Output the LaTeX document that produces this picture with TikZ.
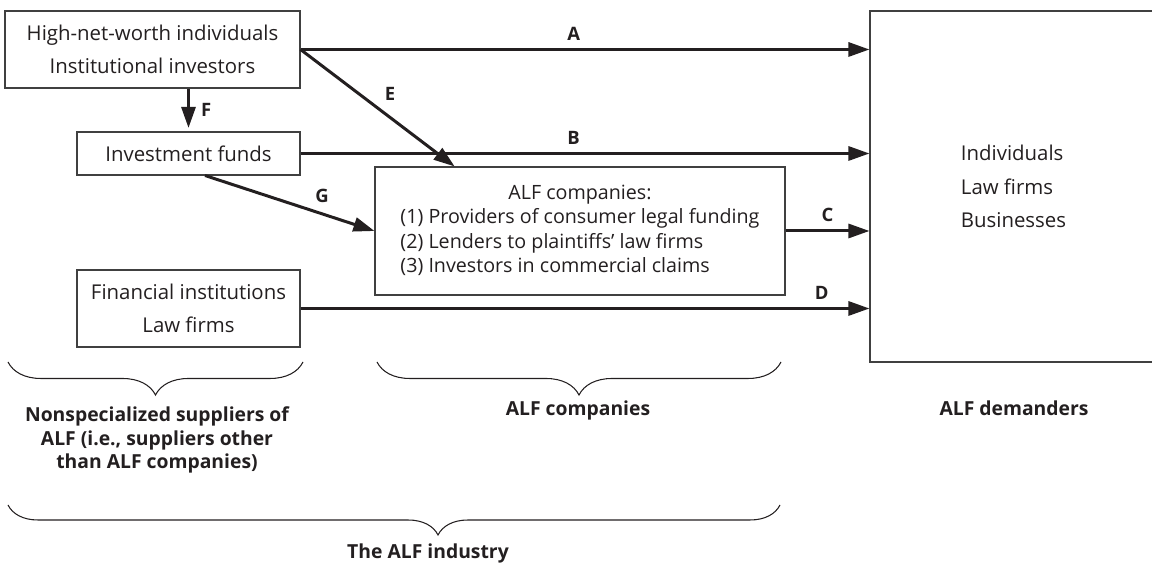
\documentclass[tikz,border=0pt]{standalone}
\usepackage{fontspec}
\setmainfont{Open Sans}
\usepackage{tikz}
\usetikzlibrary{arrows.meta,calc,decorations.pathreplacing}
\definecolor{alfink}{HTML}{231F20}
\tikzset{
  alfbox/.style={draw=black!75, line width=0.6pt, text=alfink, inner sep=0pt, align=center, font=\fontsize{11.6}{19}\selectfont},
  alfflow/.style={line width=1.7pt, draw=alfink, -{Triangle[length=12pt,width=8pt]}},
  alftag/.style={text=alfink, font=\fontsize{10.5}{12}\selectfont\bfseries},
  alfbrace/.style={line width=0.6pt, draw=alfink, decorate},
  alflbl/.style={text=alfink, align=center, font=\fontsize{11}{13.6}\selectfont\bfseries},
}

\begin{document}
\begin{tikzpicture}
\useasboundingbox (0,0) rectangle (23.04,11.3);
\node[alfbox, minimum width=5.900cm, minimum height=1.540cm] (hnw) at (3.050,10.310) {High-net-worth individuals\\Institutional investors};
\node[alfbox, minimum width=4.460cm, minimum height=0.860cm] (fund) at (3.770,8.230) {Investment funds};
\node[alfbox, minimum width=4.460cm, minimum height=1.540cm] (fin) at (3.770,5.130) {Financial institutions\\Law firms};
\node[alfbox, minimum width=8.200cm, minimum height=2.560cm, font=\fontsize{11.2}{14}\selectfont] (alf) at (11.600,6.680) {\begin{tabular}{@{}l@{}}\multicolumn{1}{@{}c@{}}{ALF companies:}\\(1) Providers of consumer legal funding\\(2) Lenders to plaintiffs’ law firms\\(3) Investors in commercial claims\end{tabular}};
\node[alfbox, minimum width=5.740cm, minimum height=7.020cm, align=left] (dem) at (20.270,7.570) {Individuals\\Law firms\\Businesses};
\draw[alfflow] (hnw.east) -- node[alftag, pos=0.48, above=1pt] {A} (hnw.east -| dem.west);
\draw[alfflow] (fund.east) -- node[alftag, pos=0.48, above=1pt] {B} (fund.east -| dem.west);
\draw[alfflow] (alf.east) -- node[alftag, midway, above=1pt] {C} (alf.east -| dem.west);
\draw[alfflow] (fin.east) -- node[alftag, pos=0.916, above=1pt] {D} (fin.east -| dem.west);
\draw[alfflow] (hnw.east) -- node[alftag, midway, above right=0pt] {E} ($(alf.north west)!0.195!(alf.north east)$);
\draw[alfflow, shorten >=2pt] (hnw.south -| fund.north) -- node[alftag, midway, right=3pt] {F} (fund.north);
\draw[alfflow] ([xshift=0.33cm]fund.south) -- node[alftag, pos=0.69, above=2pt] {G} (alf.west);
\draw[alfbrace, decoration={brace, mirror, amplitude=0.66cm}] (0.160,4.060) -- (6.060,4.060);
\draw[alfbrace, decoration={brace, mirror, amplitude=0.66cm}] (7.540,4.060) -- (15.620,4.060);
\draw[alfbrace, decoration={brace, mirror, amplitude=0.60cm, aspect=0.557}] (0.160,1.200) -- (15.600,1.200);
\node[alflbl] (sup) at (3.140,2.500) {Nonspecialized suppliers of\\ALF (i.e., suppliers other\\than ALF companies)};
\node[alflbl] (comp) at (11.560,3.100) {ALF companies};
\node[alflbl] (dmd) at (20.280,3.140) {ALF demanders};
\node[alflbl] (ind) at (8.560,0.240) {The ALF industry};
\end{tikzpicture}
\end{document}
